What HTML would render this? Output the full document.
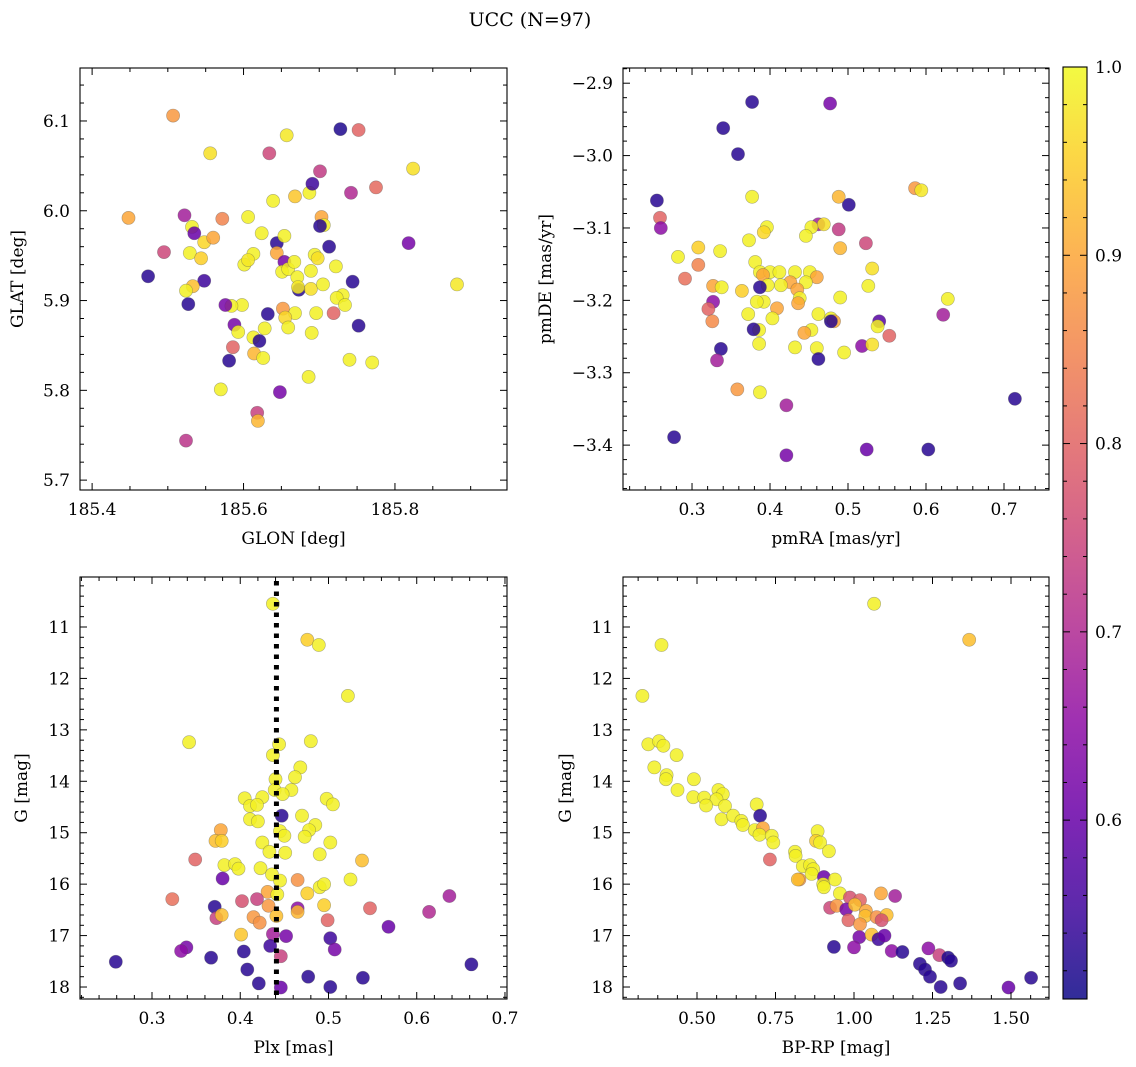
<!DOCTYPE html>
<html><head><meta charset="utf-8"><style>
html,body{margin:0;padding:0;background:#fff;}
svg{display:block;font-family:"DejaVu Serif","Liberation Serif",serif;}
</style></head><body>
<svg id="fig" width="1136" height="1067" viewBox="0 0 1136 1067" xmlns="http://www.w3.org/2000/svg">
<defs>
<linearGradient id="cmap" x1="0" y1="1" x2="0" y2="0">
<stop offset="0" stop-color="#0d0887"/><stop offset="0.1" stop-color="#41049d"/><stop offset="0.2" stop-color="#6a00a8"/><stop offset="0.3" stop-color="#8f0da4"/><stop offset="0.4" stop-color="#b12a90"/><stop offset="0.5" stop-color="#cc4778"/><stop offset="0.6" stop-color="#e16462"/><stop offset="0.7" stop-color="#f2844b"/><stop offset="0.8" stop-color="#fca636"/><stop offset="0.9" stop-color="#fcce25"/><stop offset="1" stop-color="#f0f921"/>
</linearGradient>
</defs>
<text x="530" y="26" font-size="19" text-anchor="middle">UCC (N=97)</text>
</svg>
<script>
// ---- Panel 1: GLON / GLAT ----
const glon=[185.507,185.556,185.752,185.728,185.634,185.657,185.701,185.742,185.775,185.824,185.448,185.522,185.495,185.474,185.532,185.535,185.529,185.548,185.544,185.560,185.572,185.548,185.533,185.524,185.527,185.606,185.624,185.613,185.601,185.606,185.639,185.668,185.687,185.691,185.703,185.706,185.701,185.713,185.644,185.654,185.644,185.654,185.651,185.659,185.667,185.671,185.694,185.698,185.689,185.673,185.672,185.689,185.705,185.722,185.744,185.731,185.723,185.734,185.719,185.696,185.668,185.652,185.655,185.632,185.659,185.628,185.598,185.584,185.576,185.588,185.593,185.613,185.621,185.614,185.626,185.586,185.581,185.690,185.752,185.740,185.770,185.686,185.570,185.648,185.618,185.619,185.524,185.818,185.882];
const glat=[6.106,6.064,6.090,6.091,6.064,6.084,6.044,6.020,6.026,6.047,5.992,5.995,5.954,5.927,5.982,5.975,5.953,5.965,5.947,5.970,5.991,5.922,5.916,5.911,5.896,5.993,5.975,5.952,5.940,5.945,6.011,6.016,6.020,6.030,5.993,5.984,5.983,5.960,5.964,5.972,5.953,5.943,5.932,5.935,5.943,5.926,5.951,5.947,5.933,5.912,5.915,5.913,5.918,5.938,5.921,5.906,5.903,5.895,5.886,5.886,5.886,5.891,5.881,5.885,5.870,5.869,5.895,5.894,5.895,5.873,5.865,5.859,5.855,5.841,5.836,5.848,5.833,5.864,5.872,5.834,5.831,5.815,5.801,5.798,5.775,5.766,5.744,5.964,5.918];
const prob1=[0.88,0.97,0.80,0.52,0.75,0.98,0.73,0.70,0.81,0.97,0.90,0.68,0.75,0.53,0.99,0.60,0.99,0.96,0.95,0.90,0.85,0.55,0.93,0.99,0.53,0.99,0.99,0.99,0.99,0.98,0.99,0.94,0.99,0.55,0.90,0.99,0.53,0.53,0.53,0.99,0.90,0.62,0.99,0.99,0.99,0.99,0.99,0.97,0.99,0.53,0.98,0.97,0.99,0.99,0.53,0.99,0.99,0.99,0.80,0.99,0.99,0.88,0.96,0.53,0.99,0.99,0.99,0.99,0.62,0.62,0.99,0.99,0.53,0.92,0.99,0.80,0.53,0.99,0.53,0.99,0.99,0.99,0.99,0.62,0.74,0.92,0.72,0.62,0.98];
const ticks1x=[185.4,185.6,185.8];
const ticks1y=[5.7,5.8,5.9,6.0,6.1];
// ---- Panel 2: pmRA / pmDE ----
const pmra=[0.377,0.477,0.340,0.359,0.255,0.501,0.259,0.260,0.586,0.594,0.488,0.377,0.462,0.469,0.453,0.488,0.396,0.392,0.373,0.446,0.282,0.308,0.336,0.308,0.523,0.490,0.291,0.381,0.387,0.400,0.412,0.432,0.391,0.451,0.460,0.446,0.426,0.414,0.397,0.387,0.327,0.338,0.364,0.435,0.438,0.531,0.526,0.490,0.628,0.436,0.392,0.383,0.327,0.321,0.409,0.372,0.462,0.478,0.540,0.538,0.326,0.482,0.403,0.478,0.622,0.386,0.379,0.453,0.444,0.518,0.531,0.553,0.432,0.460,0.337,0.386,0.495,0.462,0.332,0.358,0.387,0.421,0.714,0.277,0.421,0.524,0.603];
const pmde=[-2.926,-2.928,-2.962,-2.998,-3.062,-3.068,-3.086,-3.100,-3.045,-3.048,-3.057,-3.057,-3.095,-3.095,-3.099,-3.102,-3.099,-3.106,-3.117,-3.111,-3.140,-3.127,-3.132,-3.151,-3.121,-3.128,-3.170,-3.147,-3.161,-3.161,-3.161,-3.161,-3.165,-3.161,-3.168,-3.175,-3.175,-3.179,-3.179,-3.182,-3.180,-3.182,-3.187,-3.185,-3.197,-3.156,-3.180,-3.196,-3.198,-3.204,-3.202,-3.202,-3.202,-3.212,-3.211,-3.219,-3.219,-3.225,-3.229,-3.236,-3.229,-3.229,-3.225,-3.229,-3.220,-3.241,-3.240,-3.241,-3.245,-3.263,-3.261,-3.249,-3.265,-3.266,-3.267,-3.260,-3.272,-3.281,-3.283,-3.323,-3.327,-3.345,-3.336,-3.389,-3.414,-3.406,-3.406];
const prob2=[0.53,0.62,0.53,0.53,0.53,0.53,0.80,0.65,0.88,0.98,0.92,0.99,0.68,0.97,0.99,0.73,0.99,0.96,0.99,0.99,0.99,0.95,0.99,0.85,0.75,0.92,0.82,0.99,0.99,0.99,0.99,0.99,0.90,0.99,0.90,0.99,0.90,0.99,0.99,0.53,0.90,0.99,0.95,0.90,0.99,0.97,0.99,0.99,0.99,0.90,0.99,0.99,0.65,0.80,0.90,0.99,0.99,0.99,0.58,0.99,0.86,0.90,0.99,0.53,0.68,0.99,0.53,0.99,0.90,0.65,0.97,0.80,0.99,0.99,0.53,0.99,0.99,0.53,0.68,0.88,0.99,0.68,0.53,0.53,0.62,0.60,0.53];
const ticks2x=[0.3,0.4,0.5,0.6,0.7];
const ticks2y=[-2.9,-3.0,-3.1,-3.2,-3.3,-3.4];
// ---- Panel 3: Plx / G ----
const plx=[0.437,0.476,0.489,0.522,0.342,0.444,0.480,0.437,0.468,0.462,0.440,0.458,0.439,0.448,0.405,0.425,0.411,0.419,0.498,0.505,0.447,0.470,0.411,0.420,0.485,0.478,0.445,0.450,0.473,0.378,0.372,0.379,0.425,0.502,0.433,0.451,0.490,0.349,0.538,0.382,0.394,0.398,0.423,0.436,0.380,0.445,0.465,0.525,0.490,0.495,0.476,0.431,0.442,0.323,0.402,0.419,0.371,0.432,0.465,0.465,0.495,0.547,0.637,0.614,0.373,0.379,0.415,0.422,0.441,0.499,0.568,0.401,0.437,0.452,0.502,0.507,0.446,0.434,0.404,0.339,0.333,0.367,0.259,0.662,0.408,0.477,0.539,0.421,0.502,0.446];
const gmag3=[10.55,11.25,11.35,12.34,13.24,13.28,13.22,13.49,13.73,13.92,13.96,14.17,14.17,14.25,14.33,14.31,14.48,14.46,14.34,14.45,14.67,14.67,14.74,14.78,14.85,14.95,14.97,15.06,15.08,14.95,15.16,15.16,15.19,15.19,15.37,15.39,15.42,15.52,15.54,15.63,15.61,15.70,15.69,15.81,15.89,15.93,15.92,15.91,16.06,16.00,16.18,16.15,16.20,16.29,16.33,16.29,16.44,16.42,16.47,16.54,16.41,16.47,16.23,16.54,16.66,16.60,16.64,16.75,16.62,16.70,16.83,16.98,16.97,17.01,17.05,17.27,17.40,17.20,17.31,17.23,17.30,17.43,17.51,17.56,17.66,17.80,17.82,17.93,18.00,18.01];
const prob3=[0.99,0.95,0.99,0.99,0.99,0.99,0.99,0.99,0.99,0.99,0.99,0.99,0.99,0.99,0.99,0.99,0.99,0.99,0.99,0.99,0.53,0.99,0.99,0.99,0.99,0.99,0.99,0.99,0.99,0.90,0.93,0.95,0.99,0.99,0.99,0.99,0.99,0.80,0.93,0.99,0.99,0.99,0.99,0.99,0.60,0.99,0.87,0.99,0.99,0.99,0.95,0.90,0.99,0.82,0.77,0.74,0.53,0.88,0.65,0.92,0.95,0.80,0.68,0.70,0.74,0.93,0.88,0.87,0.93,0.80,0.60,0.94,0.68,0.62,0.55,0.62,0.74,0.55,0.53,0.62,0.65,0.53,0.53,0.53,0.53,0.53,0.53,0.53,0.53,0.60];
const ticks3x=[0.3,0.4,0.5,0.6,0.7];
const ticks3y=[11,12,13,14,15,16,17,18];
const plxMedian=[0.441];
// ---- Panel 4: BP-RP / G ----
const bprp=[1.064,1.367,0.387,0.326,0.345,0.379,0.393,0.435,0.364,0.403,0.401,0.490,0.438,0.488,0.523,0.568,0.582,0.562,0.529,0.589,0.690,0.578,0.615,0.701,0.641,0.646,0.684,0.710,0.699,0.738,0.743,0.884,0.879,0.892,0.920,0.732,0.812,0.814,0.837,0.860,0.870,0.865,0.826,0.821,0.904,0.939,0.902,0.904,0.955,1.086,1.131,0.987,1.019,0.924,0.945,0.975,1.003,1.038,0.982,1.036,1.072,1.104,1.019,1.088,1.017,1.056,1.078,1.097,0.936,1.000,1.120,1.154,1.237,1.272,1.300,1.309,1.210,1.226,1.242,1.338,1.276,1.492,1.564];
const gmag4=[10.55,11.25,11.35,12.34,13.28,13.22,13.31,13.49,13.73,13.88,13.96,13.96,14.17,14.31,14.32,14.17,14.25,14.35,14.47,14.48,14.45,14.74,14.67,14.67,14.77,14.85,14.95,14.91,15.04,15.06,15.19,14.97,15.16,15.19,15.36,15.52,15.37,15.45,15.65,15.63,15.71,15.80,15.91,15.91,15.86,15.91,16.00,16.06,16.18,16.18,16.23,16.26,16.31,16.46,16.42,16.49,16.40,16.52,16.70,16.62,16.64,16.60,16.78,16.70,17.03,16.98,17.07,17.00,17.22,17.23,17.30,17.32,17.25,17.38,17.43,17.49,17.55,17.66,17.80,17.93,18.00,18.01,17.82];
const prob4=[0.99,0.93,0.99,0.99,0.99,0.99,0.99,0.99,0.99,0.99,0.99,0.99,0.99,0.99,0.99,0.99,0.99,0.99,0.99,0.99,0.99,0.99,0.99,0.53,0.99,0.99,0.99,0.90,0.99,0.99,0.99,0.99,0.95,0.99,0.99,0.80,0.99,0.99,0.99,0.99,0.99,0.99,0.88,0.93,0.60,0.99,0.99,0.99,0.99,0.90,0.68,0.77,0.80,0.75,0.88,0.62,0.93,0.90,0.80,0.93,0.87,0.93,0.88,0.77,0.62,0.93,0.55,0.60,0.53,0.65,0.65,0.53,0.65,0.74,0.52,0.53,0.53,0.53,0.53,0.53,0.53,0.60,0.53];
const ticks4x=[0.50,0.75,1.00,1.25,1.50];
const ticks4y=[11,12,13,14,15,16,17,18];
// ---- Colorbar ----
const cbTicks=[0.6,0.7,0.8,0.9,1.0];
const cbRange=[0.505,1.0];

const NS='http://www.w3.org/2000/svg';
const svg=document.getElementById('fig');
const stops=[[13,8,135],[65,4,157],[106,0,168],[143,13,164],[177,42,144],[204,71,120],[225,100,98],[242,132,75],[252,166,54],[252,206,37],[240,249,33]];
function plasma(p){let t=(p-cbRange[0])/(cbRange[1]-cbRange[0]);t=Math.max(0,Math.min(1,t))*10;const i=Math.min(9,Math.floor(t)),f=t-i;const a=stops[i],b=stops[i+1];return 'rgb('+a.map((v,k)=>Math.round(v+(b[k]-v)*f)).join(',')+')';}
function mk(tag,attrs,parent){const e=document.createElementNS(NS,tag);for(const k in attrs)e.setAttribute(k,attrs[k]);(parent||svg).appendChild(e);return e;}
function fmt(v,d){return (v<0?'\u2212':'')+Math.abs(v).toFixed(d);}

function panel(o){
  const g=mk('g',{});
  
  
  const sx=v=>o.x0+(v-o.xd[0])/(o.xd[1]-o.xd[0])*(o.x1-o.x0);
  const sy=v=>o.y0+(v-o.yd[0])/(o.yd[1]-o.yd[0])*(o.y1-o.y0);
  for(let i=0;i<o.xs.length;i++){
    const c=mk('circle',{cx:sx(o.xs[i]).toFixed(1),cy:sy(o.ys[i]).toFixed(1),r:6.6,fill:plasma(o.ps[i]),'fill-opacity':0.85,stroke:'#555','stroke-opacity':0.45,'stroke-width':0.6},g);
    
    
  }
  if(o.vline){
    const l=mk('line',{x1:sx(o.vline[0]),x2:sx(o.vline[0]),y1:o.y0+4,y2:o.y1-3,stroke:'#000','stroke-width':5,'stroke-dasharray':'4.5 6'},g);
    
    
  }
  const fr=mk('rect',{x:o.x0,y:o.y0,width:o.x1-o.x0,height:o.y1-o.y0,fill:'none',stroke:'#000','stroke-width':1.1},g);
  
  
  const lo=Math.min(o.xd[0],o.xd[1]),hi=Math.max(o.xd[0],o.xd[1]);
  const xmin=o.xt[1]-o.xt[0], ms=xmin/o.xm;
  for(let v=o.xt[0]-20*xmin;v<=hi+1e-9;v+=ms){ if(v<lo-1e-9)continue;
    const X=sx(v);const major=o.xt.some(t=>Math.abs(t-v)<ms/10);const L=major?7:4;
    mk('line',{x1:X,x2:X,y1:o.y1,y2:o.y1-L,stroke:'#000','stroke-width':1},g);
    mk('line',{x1:X,x2:X,y1:o.y0,y2:o.y0+L,stroke:'#000','stroke-width':1},g);}
  o.xt.forEach(v=>{const t=mk('text',{x:sx(v),y:o.y1+25,'font-size':17,'text-anchor':'middle'},g);t.textContent=fmt(v,o.xdec);
    });
  const ylo=Math.min(o.yd[0],o.yd[1]),yhi=Math.max(o.yd[0],o.yd[1]);
  const ymaj=Math.abs(o.yt[1]-o.yt[0]),yms=ymaj/o.ym;const ystart=Math.min(...o.yt)-20*ymaj;
  for(let v=ystart;v<=yhi+1e-9;v+=yms){ if(v<ylo-1e-9)continue;
    const Y=sy(v);const major=o.yt.some(t=>Math.abs(t-v)<yms/10);const L=major?7:4;
    mk('line',{x1:o.x0,x2:o.x0+L,y1:Y,y2:Y,stroke:'#000','stroke-width':1},g);
    mk('line',{x1:o.x1,x2:o.x1-L,y1:Y,y2:Y,stroke:'#000','stroke-width':1},g);}
  o.yt.forEach(v=>{const t=mk('text',{x:o.x0-10,y:sy(v)+6,'font-size':17,'text-anchor':'end'},g);t.textContent=fmt(v,o.ydec);
    });
  const xl=mk('text',{x:(o.x0+o.x1)/2,y:o.y1+54,'font-size':17,'text-anchor':'middle'},g);xl.textContent=o.xlab;
  
  const cy=(o.y0+o.y1)/2;
  const yl=mk('text',{x:o.ylx,y:cy,'font-size':17,'text-anchor':'middle',transform:'rotate(-90 '+o.ylx+' '+cy+')'},g);yl.textContent=o.ylab;
  
}

panel({name:'glon-glat-panel',x0:80,x1:507,y0:68,y1:490,xd:[185.384,185.948],yd:[6.159,5.689],xs:glon,ys:glat,ps:prob1,xt:ticks1x,xm:4,yt:ticks1y,ym:5,xdec:1,ydec:1,xlab:'GLON [deg]',ylab:'GLAT [deg]',ylx:23});
panel({name:'proper-motion-panel',x0:623,x1:1049,y0:68,y1:490,xd:[0.2115,0.7577],yd:[-2.879,-3.462],xs:pmra,ys:pmde,ps:prob2,xt:ticks2x,xm:5,yt:ticks2y,ym:5,xdec:1,ydec:1,xlab:'pmRA [mas/yr]',ylab:'pmDE [mas/yr]',ylx:551});
panel({name:'parallax-mag-panel',x0:80,x1:507,y0:577,y1:999,xd:[0.2184,0.7023],yd:[10.028,18.233],xs:plx,ys:gmag3,ps:prob3,xt:ticks3x,xm:5,yt:ticks3y,ym:5,xdec:1,ydec:0,xlab:'Plx [mas]',ylab:'G [mag]',ylx:27,vline:plxMedian});
panel({name:'cmd-panel',x0:623,x1:1049,y0:577,y1:999,xd:[0.2643,1.621],yd:[10.028,18.233],xs:bprp,ys:gmag4,ps:prob4,xt:ticks4x,xm:4,yt:ticks4y,ym:5,xdec:2,ydec:0,xlab:'BP-RP [mag]',ylab:'G [mag]',ylx:571});

(function(){
  const x0=1063,x1=1087,y0=67,y1=999;
  const cg=mk('g',{});
  
  
  const sy=v=>y1-(v-cbRange[0])/(cbRange[1]-cbRange[0])*(y1-y0);
  mk('rect',{x:x0,y:y0,width:x1-x0,height:y1-y0,fill:'url(#cmap)','fill-opacity':0.85},cg);
  mk('rect',{x:x0,y:y0,width:x1-x0,height:y1-y0,fill:'none',stroke:'#000','stroke-width':1.1},cg);
  for(let v=0.52;v<=1.0001;v+=0.02){const Y=sy(v);const major=cbTicks.some(t=>Math.abs(t-v)<0.005);const L=major?7:4;
    mk('line',{x1:x1,x2:x1-L,y1:Y,y2:Y,stroke:'#000','stroke-width':1},cg);
    mk('line',{x1:x0,x2:x0+L,y1:Y,y2:Y,stroke:'#000','stroke-width':1},cg);}
  cbTicks.forEach(v=>{const t=mk('text',{x:x1+8,y:sy(v)+6,'font-size':17},cg);t.textContent=v.toFixed(1);
    });
})();
</script>
</body></html>
